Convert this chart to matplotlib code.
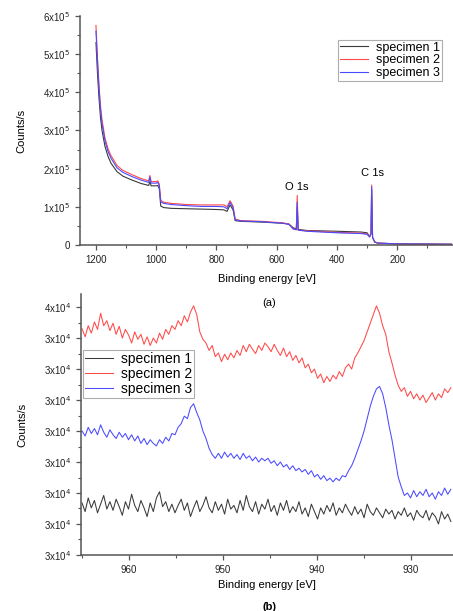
import numpy as np
import matplotlib
matplotlib.use("Agg")
import matplotlib.pyplot as plt
from matplotlib.ticker import MultipleLocator

plt.rcParams['font.family'] = ['Liberation Sans', 'DejaVu Sans']

## (a) survey spectrum
energia_a = [1200, 1195, 1190, 1185, 1180, 1170, 1160, 1150, 1130, 1110, 1080, 1050, 1025,
             1021, 1017, 1000, 995, 990, 985, 975, 950, 900, 850, 800, 775, 765, 755, 745,
             738, 720, 650, 580, 560, 545, 535, 532, 529, 500, 400, 320, 300, 292, 287,
             285, 282, 275, 265, 200, 100, 20]
spec1_a = [5.30e5, 4.50e5, 3.85e5, 3.35e5, 3.00e5, 2.58e5, 2.32e5, 2.14e5, 1.92e5, 1.80e5, 1.70e5, 1.61e5, 1.56e5,
           1.66e5, 1.55e5, 1.55e5, 1.56e5, 1.48e5, 1.02e5, 0.98e5, 0.96e5, 0.95e5, 0.94e5, 0.93e5, 0.92e5, 0.88e5, 1.05e5, 0.92e5,
           0.64e5, 0.62e5, 0.60e5, 0.57e5, 0.55e5, 0.45e5, 0.42e5, 1.00e5, 0.41e5, 0.38e5, 0.36e5, 0.34e5, 0.32e5, 0.22e5, 0.30e5,
           1.45e5, 0.20e5, 0.08e5, 0.05e5, 0.03e5, 0.025e5, 0.02e5]
spec2_a = [5.75e5, 4.90e5, 4.20e5, 3.65e5, 3.28e5, 2.80e5, 2.52e5, 2.34e5, 2.08e5, 1.95e5, 1.84e5, 1.74e5, 1.68e5,
           1.82e5, 1.66e5, 1.66e5, 1.68e5, 1.60e5, 1.17e5, 1.12e5, 1.09e5, 1.06e5, 1.05e5, 1.05e5, 1.05e5, 1.00e5, 1.16e5, 1.02e5,
           0.68e5, 0.64e5, 0.62e5, 0.58e5, 0.55e5, 0.42e5, 0.40e5, 1.30e5, 0.39e5, 0.37e5, 0.33e5, 0.31e5, 0.29e5, 0.22e5, 0.30e5,
           1.57e5, 0.20e5, 0.08e5, 0.05e5, 0.03e5, 0.025e5, 0.02e5]
spec3_a = [5.60e5, 4.80e5, 4.10e5, 3.55e5, 3.18e5, 2.72e5, 2.45e5, 2.27e5, 2.02e5, 1.90e5, 1.79e5, 1.70e5, 1.64e5,
           1.78e5, 1.62e5, 1.62e5, 1.64e5, 1.56e5, 1.13e5, 1.09e5, 1.06e5, 1.03e5, 1.01e5, 1.01e5, 1.00e5, 0.95e5, 1.12e5, 0.98e5,
           0.66e5, 0.63e5, 0.61e5, 0.57e5, 0.54e5, 0.42e5, 0.40e5, 1.12e5, 0.39e5, 0.36e5, 0.32e5, 0.30e5, 0.28e5, 0.21e5, 0.29e5,
           1.52e5, 0.20e5, 0.08e5, 0.05e5, 0.03e5, 0.025e5, 0.02e5]
yticks_a = [0, 1e5, 2e5, 3e5, 4e5, 5e5, 6e5]
ylabels_a = ['0', '1x10$^5$', '2x10$^5$', '3x10$^5$', '4x10$^5$', '5x10$^5$', '6x10$^5$']

## (b) Cu 2p region, passo de 0.33 eV a partir de 965 eV
energia_b = 965 - 0.33 * np.arange(120)
spec1_b = [32840, 32700, 32920, 32760, 32880, 32680, 32820, 32960, 32740, 32860,
           32720, 32900, 32780, 32640, 32860, 32740, 32980, 32800, 32700, 32880,
           32760, 32620, 32840, 32700, 32920, 33020, 32780, 32860, 32700, 32820,
           32680, 32800, 32900, 32720, 32840, 32620, 32760, 32880, 32700, 32800,
           32940, 32760, 32680, 32860, 32720, 32820, 32660, 32900, 32740, 32800,
           32680, 32880, 32720, 32960, 32780, 32700, 32860, 32660, 32820, 32740,
           32900, 32700, 32800, 32640, 32840, 32720, 32880, 32680, 32780, 32700,
           32860, 32660, 32760, 32620, 32820, 32700, 32580, 32760, 32660, 32800,
           32700, 32840, 32640, 32760, 32680, 32820, 32720, 32640, 32780, 32660,
           32740, 32600, 32820, 32700, 32640, 32760, 32680, 32600, 32740, 32660,
           32720, 32580, 32700, 32640, 32760, 32620, 32680, 32560, 32720, 32640,
           32600, 32720, 32560, 32680, 32620, 32500, 32700, 32580, 32660, 32540]
spec2_b = [35650, 35520, 35700, 35580, 35760, 35640, 35900, 35700, 35780, 35620,
           35740, 35560, 35690, 35500, 35640, 35550, 35420, 35600, 35480, 35560,
           35400, 35520, 35380, 35500, 35420, 35580, 35480, 35640, 35560, 35700,
           35640, 35780, 35700, 35860, 35760, 35920, 36020, 35880, 35600, 35480,
           35420, 35300, 35380, 35200, 35260, 35120, 35240, 35150, 35260, 35180,
           35300, 35220, 35380, 35280, 35400, 35320, 35250, 35380, 35300, 35420,
           35360, 35280, 35400, 35300, 35220, 35340, 35200, 35280, 35140, 35220,
           35100, 35180, 35020, 35080, 34940, 35000, 34850, 34920, 34780, 34880,
           34800, 34900, 34840, 34960, 34880, 35020, 35080, 35000, 35180, 35260,
           35360, 35460, 35600, 35740, 35880, 36020, 35900, 35700, 35560, 35280,
           35100, 34900, 34740, 34640, 34700, 34560, 34640, 34520, 34600, 34500,
           34580, 34460, 34540, 34620, 34500, 34600, 34540, 34680, 34620, 34700]
spec3_b = [34000, 33920, 34060, 33960, 34040, 33940, 34100, 33980, 33900, 34020,
           33940, 33880, 33980, 33900, 33960, 33860, 33940, 33840, 33920, 33800,
           33880, 33780, 33860, 33800, 33760, 33860, 33800, 33900, 33840, 33960,
           33940, 34060, 34120, 34240, 34200, 34380, 34440, 34300, 34180, 34000,
           33880, 33720, 33620, 33560, 33640, 33560, 33660, 33580, 33640, 33560,
           33620, 33540, 33640, 33560, 33600, 33520, 33580, 33500, 33560, 33520,
           33560, 33480, 33520, 33440, 33500, 33420, 33460, 33380, 33440, 33360,
           33400, 33340, 33380, 33300, 33360, 33260, 33300, 33220, 33280, 33200,
           33240, 33180, 33240, 33200, 33280, 33260, 33360, 33440, 33560, 33700,
           33840, 34000, 34200, 34400, 34560, 34680, 34720, 34600, 34380, 34100,
           33860, 33560, 33260, 33100, 32960, 33000, 32920, 33040, 32940, 33020,
           32960, 33060, 32940, 33000, 32900, 33020, 32960, 33080, 32980, 33060]
yticks_b = [32000, 32500, 33000, 33500, 34000, 34500, 35000, 35500, 36000]
ylabels_b = ['3x10$^4$'] * 8 + ['4x10$^4$']

nomes = ['specimen 1', 'specimen 2', 'specimen 3']
cores = ['#3a3a3a', '#ff4a4a', '#4a4aff']


def estilo(ax):
    for lado in ['top', 'right']:
        ax.spines[lado].set_visible(False)
    for lado in ['left', 'bottom']:
        ax.spines[lado].set_color('#555555')
        ax.spines[lado].set_linewidth(1.1)
    ax.tick_params(which='major', length=3.5, width=0.9, color='#555555', labelsize=7, labelcolor='#222222')
    ax.tick_params(which='minor', length=2, width=0.8, color='#555555')


fig = plt.figure(figsize=(4.53, 6.11), dpi=100)

# painel (a)
ax1 = fig.add_axes([0.1766, 0.599, 0.8234, 0.375])
ax1.plot(energia_a, spec1_a, color=cores[0], lw=0.8, label=nomes[0])
ax1.plot(energia_a, spec2_a, color=cores[1], lw=0.8, label=nomes[1])
ax1.plot(energia_a, spec3_a, color=cores[2], lw=0.8, label=nomes[2])
ax1.set_xlim(1253, 15)
ax1.set_ylim(0, 6e5)
ax1.set_xticks([1200, 1000, 800, 600, 400, 200])
ax1.xaxis.set_minor_locator(MultipleLocator(100))
ax1.set_yticks(yticks_a)
ax1.set_yticklabels(ylabels_a)
ax1.yaxis.set_minor_locator(MultipleLocator(0.5e5))
estilo(ax1)
ax1.set_xlabel('Binding energy [eV]', fontsize=8, labelpad=7)
ax1.set_ylabel('Counts/s', fontsize=8, labelpad=12)
ax1.text(533, 1.52e5, 'O 1s', fontsize=8, ha='center', va='center')
ax1.text(282, 1.88e5, 'C 1s', fontsize=8, ha='center', va='center')
leg1 = ax1.legend(loc='upper right', bbox_to_anchor=(0.97, 0.895), borderaxespad=0, fontsize=9,
                  frameon=True, fancybox=False, edgecolor='#999999', handlelength=2.3, borderpad=0.15,
                  labelspacing=0.05, handletextpad=0.6)
leg1.get_frame().set_linewidth(0.8)

# painel (b)
ax2 = fig.add_axes([0.179, 0.0917, 0.821, 0.427])
ax2.plot(energia_b, spec1_b, color=cores[0], lw=0.75, label=nomes[0])
ax2.plot(energia_b, spec2_b, color=cores[1], lw=0.75, label=nomes[1])
ax2.plot(energia_b, spec3_b, color=cores[2], lw=0.75, label=nomes[2])
ax2.set_xlim(965.1, 925.5)
ax2.set_ylim(32000, 36210)
ax2.set_xticks([960, 950, 940, 930])
ax2.xaxis.set_minor_locator(MultipleLocator(5))
ax2.set_yticks(yticks_b)
ax2.set_yticklabels(ylabels_b)
ax2.yaxis.set_minor_locator(MultipleLocator(250))
estilo(ax2)
ax2.set_xlabel('Binding energy [eV]', fontsize=8, labelpad=4)
ax2.set_ylabel('Counts/s', fontsize=8, labelpad=12)
leg2 = ax2.legend(loc='upper left', bbox_to_anchor=(0.005, 0.785), borderaxespad=0, fontsize=10,
                  frameon=True, fancybox=False, edgecolor='#999999', handlelength=2.0, borderpad=0.15,
                  labelspacing=0.05, handletextpad=0.6)
leg2.get_frame().set_linewidth(0.8)

fig.text(0.594, 0.504, '(a)', fontsize=8, ha='center', va='center')
fig.text(0.596, 0.006, '(b)', fontsize=8, ha='center', va='center', fontweight='bold')

fig.savefig('out.png', dpi=100, facecolor='white')
